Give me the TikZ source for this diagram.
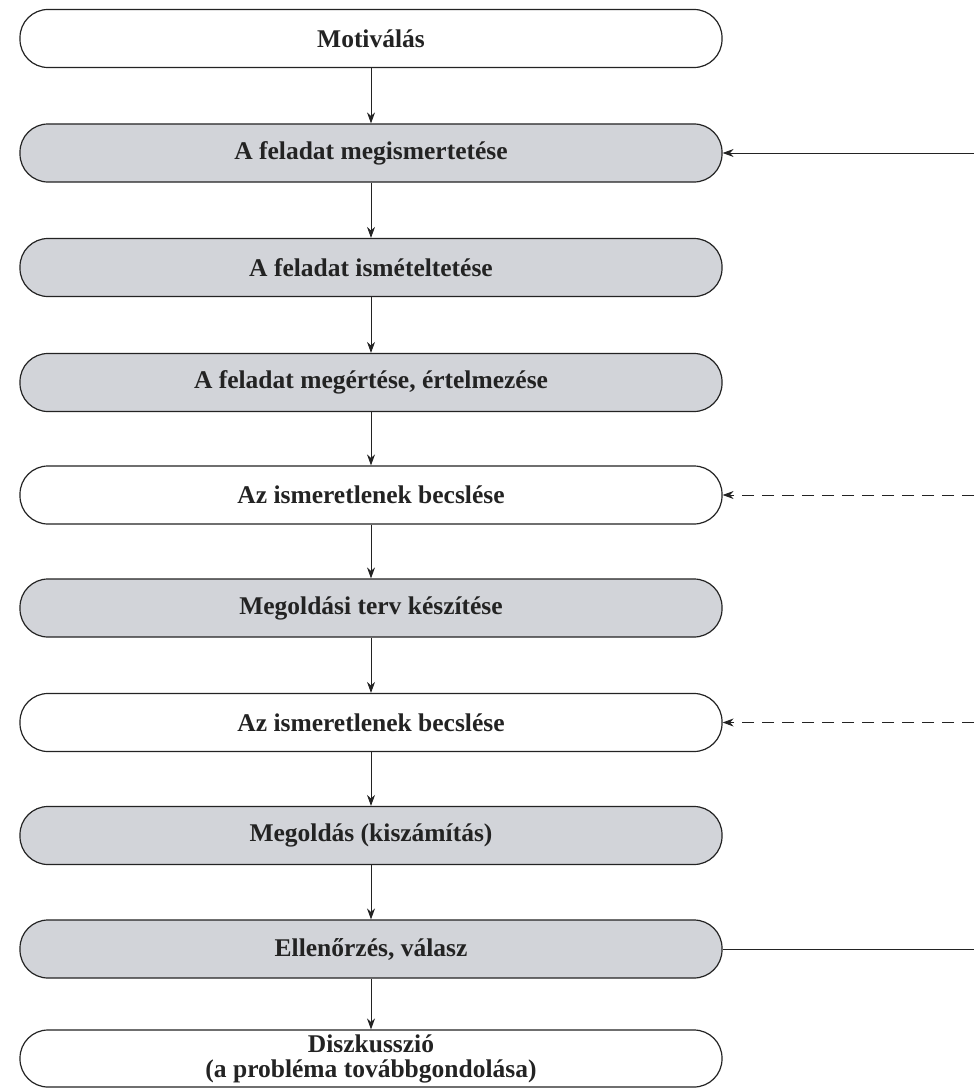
\documentclass[tikz,border=0pt]{standalone}
\usepackage{fontspec}
\setmainfont{Liberation Serif}
\usetikzlibrary{arrows.meta}
\definecolor{boxgray}{RGB}{210,212,217}
\definecolor{ink}{RGB}{35,35,35}
\begin{document}
\begin{tikzpicture}[x=1pt,y=-1pt,
  stage/.style={draw=ink, line width=1.2pt, rounded corners=28pt,
    minimum width=702pt, minimum height=58pt, inner sep=0pt,
    text=ink, font=\fontsize{25.5}{25}\selectfont\bfseries, align=center},
  shaded/.style={stage, fill=boxgray},
  plain/.style={stage, fill=white},
  flow/.style={-{Stealth[length=11pt,width=8pt]}, line width=1pt, draw=ink},
  loopdash/.style={flow, dash pattern=on 12pt off 8pt},
  loopline/.style={line width=1pt, draw=ink}
]
\useasboundingbox (0,0) rectangle (974,1089);
\fill[white] (0,0) rectangle (974,1089);

\node[plain]  (s1)  at (371,38.5)  {Motiválás};
\node[shaded] (s2)  at (371,153)   {A feladat megismertetése};
\node[shaded] (s3)  at (371,267.5) {A feladat ismételtetése};
\node[shaded] (s4)  at (371,382.5) {A feladat megértése, értelmezése};
\node[plain]  (s5)  at (371,495)   {Az ismeretlenek becslése};
\node[shaded] (s6)  at (371,608)   {Megoldási terv készítése};
\node[plain]  (s7)  at (371,722.5) {Az ismeretlenek becslése};
\node[shaded] (s8)  at (371,835.5) {Megoldás (kiszámítás)};
\node[shaded] (s9)  at (371,949)   {Ellenőrzés, válasz};
\node[plain, minimum height=57pt] (s10) at (371,1058.5) {Diszkusszió\\(a probléma továbbgondolása)};

\foreach \a/\b in {s1/s2,s2/s3,s3/s4,s4/s5,s5/s6,s6/s7,s7/s8,s8/s9,s9/s10}
  \draw[flow] (\a) -- (\b);

\coordinate (r2) at (974,153);
\coordinate (r5) at (974,495);
\coordinate (r7) at (974,722.5);
\coordinate (r9) at (974,949);

\draw[flow] (r2) -- (s2.east);
\draw[loopdash] (r5) -- (s5.east);
\draw[loopdash] (r7) -- (s7.east);
\draw[loopline] (s9.east) -- (r9);
\end{tikzpicture}
\end{document}
